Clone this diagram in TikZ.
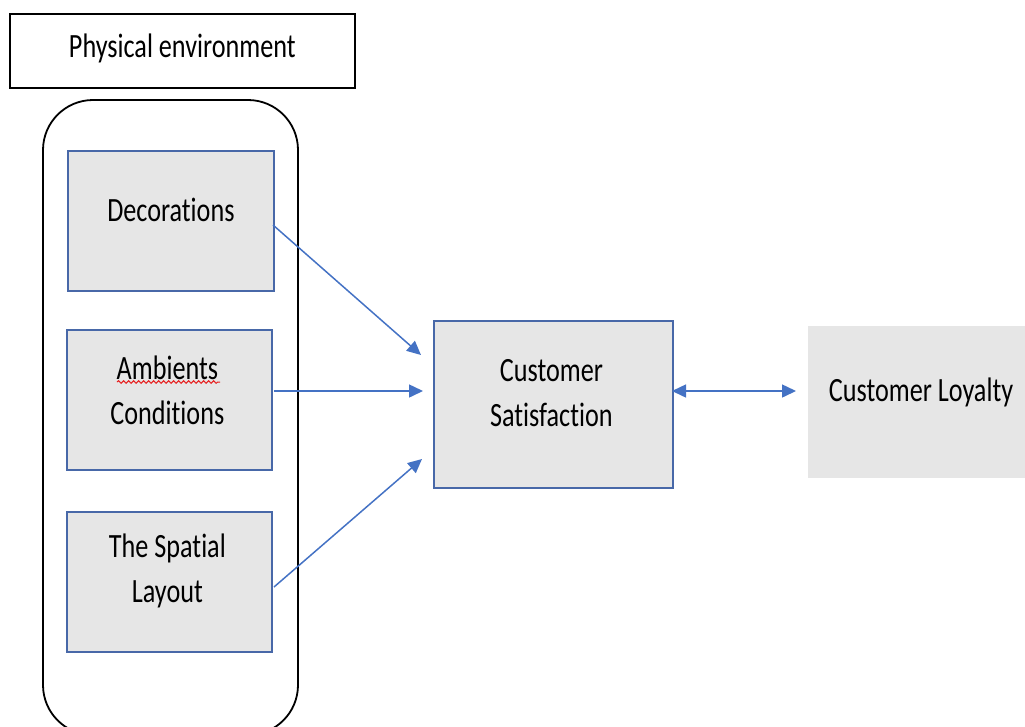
\documentclass[tikz,border=0pt]{standalone}
\usepackage{fontspec}
\setmainfont{Carlito}[FakeStretch=0.77, Ligatures={NoCommon, NoDiscretionary, NoRare}, Contextuals=NoAlternate]
\usetikzlibrary{arrows.meta,decorations.pathmorphing}
\definecolor{boxfill}{RGB}{230,230,230}
\definecolor{boxedge}{RGB}{72,104,168}
\definecolor{arrowblue}{RGB}{68,114,196}
\definecolor{squig}{RGB}{230,30,30}
\newcommand{\nl}{\kern0pt }
\begin{document}
\begin{tikzpicture}[x=1pt,y=-1pt,
  every node/.style={font=\fontsize{34}{45}\selectfont, text=black},
  factor/.style={draw=boxedge, line width=1.8pt, fill=boxfill, inner sep=0pt, anchor=north west},
  txt/.style={align=center, inner sep=0pt},
  link/.style={draw=arrowblue, line width=1.5pt, -{Triangle[length=14pt,width=13pt]}},
  biline/.style={draw=arrowblue, line width=1.5pt, {Triangle[length=14pt,width=13pt]}-{Triangle[length=14pt,width=13pt]}}]
\useasboundingbox (0,0) rectangle (1025,726);
\begin{scope}
\clip (0,0) rectangle (1025,726);
% title box
\node (pe) [draw=black, line width=1.6pt, fill=white, minimum width=345pt, minimum height=74pt, inner sep=0pt, anchor=north west] at (9,13) {};
\node[txt] at ([yshift=2pt]pe.center) {Physical environment};
% rounded container
\draw[black, line width=1.8pt, rounded corners=50pt] (43,100) rectangle (298,735);
% factor boxes
\node (dec) [factor, minimum width=206pt, minimum height=140pt] at (67,150) {};
\node[txt] at ([yshift=11pt]dec.center) {Decorat\nl ions};
\node (amb) [factor, minimum width=205pt, minimum height=140pt] at (66,329) {};
\node (ambt) [txt] at ([yshift=10pt,xshift=-2pt]amb.center) {Ambients\\Condit\nl ions};
\node (spa) [factor, minimum width=205pt, minimum height=140pt] at (66,511) {};
\node[txt] at ([yshift=11pt,xshift=-2pt]spa.center) {The Spat\nl ial\\Layout};
% satisfaction
\node (sat) [factor, minimum width=239pt, minimum height=167pt] at (433,320) {};
\node[txt] at ([yshift=11pt,xshift=-2pt]sat.center) {Customer\\Satisfact\nl ion};
% loyalty
\node (loy) [fill=boxfill, minimum width=230pt, minimum height=152pt, inner sep=0pt, anchor=north west] at (808,326) {};
\node[txt] at (921,392) {Customer Loyalty};
% red squiggle
\coordinate (sq1) at (117,382);
\coordinate (sq2) at (220,382);
\draw[squig, line width=1pt, decorate, decoration={snake, amplitude=1.3pt, segment length=5pt}] (sq1) -- (sq2);
% arrows
\coordinate (d1) at (273,225);
\coordinate (d2) at (421,355);
\coordinate (a1) at (274,391);
\coordinate (a2) at (423,391);
\coordinate (s1) at (274,587);
\coordinate (s2) at (422,459);
\coordinate (b1) at (672,391);
\coordinate (b2) at (796,391);
\draw[link] (d1) -- (d2);
\draw[link] (a1) -- (a2);
\draw[link] (s1) -- (s2);
\draw[biline] (b1) -- (b2);
\end{scope}
\end{tikzpicture}
\end{document}
